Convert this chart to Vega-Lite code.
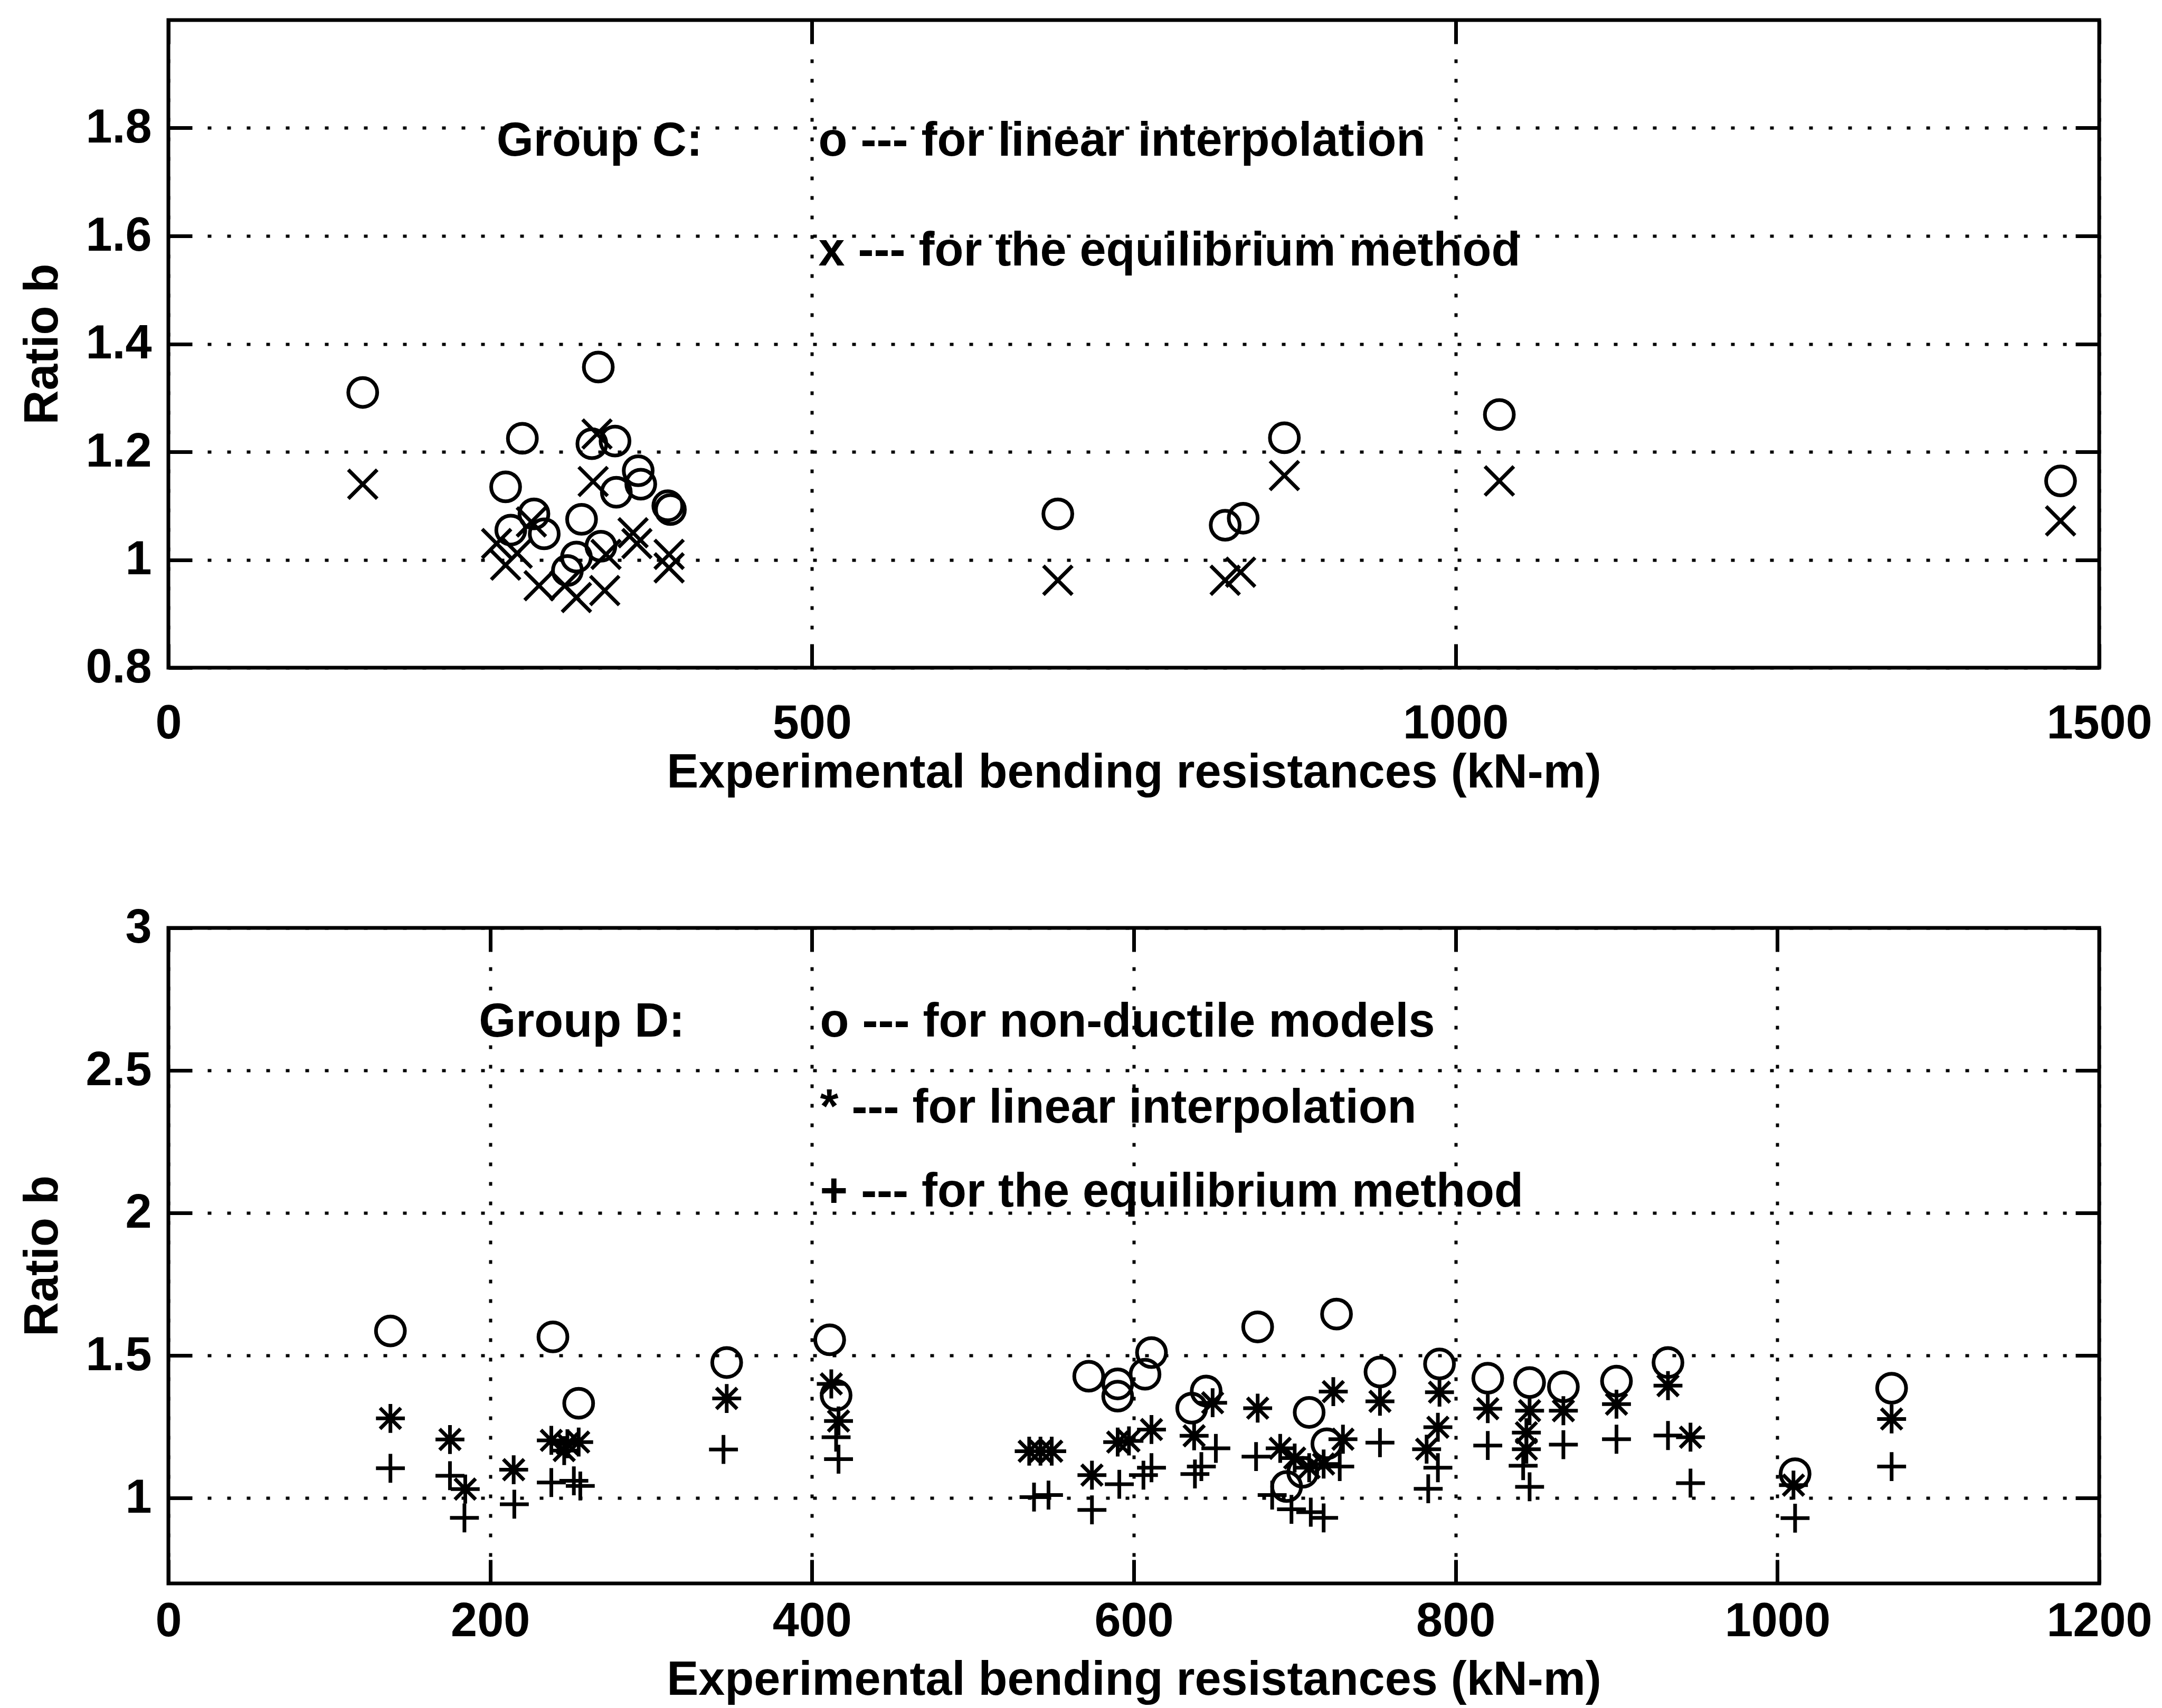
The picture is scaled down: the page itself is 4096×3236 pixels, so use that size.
{
  "$schema": "https://vega.github.io/schema/vega-lite/v6.json",
  "background": "white",
  "padding": {"left": 33, "top": 31, "right": 0, "bottom": 0},
  "config": {
    "font": "Liberation Sans",
    "view": {"stroke": "black", "strokeWidth": 7},
    "axis": {"domain": false, "labelColor": "black", "titleColor": "black", "labelFontSize": 90, "titleFontSize": 90, "labelFontWeight": "bold", "titleFontWeight": "bold", "labelLimit": 0, "titleLimit": 0, "tickColor": "black", "tickWidth": 7, "tickSize": -45, "gridColor": "black", "gridDash": [7, 30], "gridWidth": 6, "gridOpacity": 1, "labelOverlap": false, "labelBound": false, "labelFlush": false, "format": "~r"}
  },
  "datasets": {
    "c": [
      {"x":151,"b":1.31,"s":"o"},{"x":262,"b":1.135,"s":"o"},{"x":266,"b":1.055,"s":"o"},{"x":275,"b":1.225,"s":"o"},{"x":284,"b":1.085,"s":"o"},{"x":292,"b":1.048,"s":"o"},{"x":310,"b":0.98,"s":"o"},{"x":317,"b":1.005,"s":"o"},{"x":321,"b":1.075,"s":"o"},{"x":329,"b":1.215,"s":"o"},{"x":334,"b":1.357,"s":"o"},{"x":336,"b":1.025,"s":"o"},{"x":347,"b":1.22,"s":"o"},{"x":348,"b":1.125,"s":"o"},{"x":365,"b":1.165,"s":"o"},{"x":367,"b":1.14,"s":"o"},{"x":388,"b":1.1,"s":"o"},{"x":390,"b":1.093,"s":"o"},{"x":691,"b":1.085,"s":"o"},{"x":821,"b":1.064,"s":"o"},{"x":835,"b":1.077,"s":"o"},{"x":867,"b":1.226,"s":"o"},{"x":1034,"b":1.269,"s":"o"},{"x":1470,"b":1.146,"s":"o"},
      {"x":151,"b":1.14,"s":"x"},{"x":255,"b":1.03,"s":"x"},{"x":262,"b":0.99,"s":"x"},{"x":271,"b":1.012,"s":"x"},{"x":282,"b":1.07,"s":"x"},{"x":288,"b":0.952,"s":"x"},{"x":308,"b":0.952,"s":"x"},{"x":317,"b":0.93,"s":"x"},{"x":330,"b":1.145,"s":"x"},{"x":333,"b":1.233,"s":"x"},{"x":339,"b":0.943,"s":"x"},{"x":340,"b":1.01,"s":"x"},{"x":361,"b":1.05,"s":"x"},{"x":364,"b":1.03,"s":"x"},{"x":389,"b":1.01,"s":"x"},{"x":389,"b":0.985,"s":"x"},{"x":691,"b":0.962,"s":"x"},{"x":821,"b":0.962,"s":"x"},{"x":833,"b":0.977,"s":"x"},{"x":867,"b":1.156,"s":"x"},{"x":1034,"b":1.146,"s":"x"},{"x":1470,"b":1.072,"s":"x"}
    ],
    "d": [
      {"x":138,"b":1.586,"s":"o"},{"x":239,"b":1.565,"s":"o"},{"x":255,"b":1.332,"s":"o"},{"x":347,"b":1.475,"s":"o"},{"x":411,"b":1.555,"s":"o"},{"x":415,"b":1.36,"s":"o"},{"x":572,"b":1.427,"s":"o"},{"x":590,"b":1.4,"s":"o"},{"x":590,"b":1.357,"s":"o"},{"x":607,"b":1.434,"s":"o"},{"x":611,"b":1.51,"s":"o"},{"x":636,"b":1.315,"s":"o"},{"x":645,"b":1.375,"s":"o"},{"x":677,"b":1.6,"s":"o"},{"x":695,"b":1.04,"s":"o"},{"x":705,"b":1.09,"s":"o"},{"x":709,"b":1.3,"s":"o"},{"x":720,"b":1.19,"s":"o"},{"x":726,"b":1.645,"s":"o"},{"x":753,"b":1.442,"s":"o"},{"x":790,"b":1.47,"s":"o"},{"x":820,"b":1.42,"s":"o"},{"x":846,"b":1.405,"s":"o"},{"x":867,"b":1.39,"s":"o"},{"x":900,"b":1.41,"s":"o"},{"x":932,"b":1.475,"s":"o"},{"x":1011,"b":1.085,"s":"o"},{"x":1071,"b":1.385,"s":"o"},
      {"x":138,"b":1.279,"s":"*"},{"x":175,"b":1.205,"s":"*"},{"x":184.5,"b":1.031,"s":"*"},{"x":214.6,"b":1.099,"s":"*"},{"x":238,"b":1.202,"s":"*"},{"x":246,"b":1.166,"s":"*"},{"x":248,"b":1.19,"s":"*"},{"x":255,"b":1.196,"s":"*"},{"x":347,"b":1.349,"s":"*"},{"x":412,"b":1.4,"s":"*"},{"x":416.5,"b":1.27,"s":"*"},{"x":535,"b":1.164,"s":"*"},{"x":542,"b":1.164,"s":"*"},{"x":549,"b":1.164,"s":"*"},{"x":574,"b":1.08,"s":"*"},{"x":590,"b":1.196,"s":"*"},{"x":597,"b":1.2,"s":"*"},{"x":611,"b":1.24,"s":"*"},{"x":637.5,"b":1.218,"s":"*"},{"x":649,"b":1.334,"s":"*"},{"x":677,"b":1.315,"s":"*"},{"x":691,"b":1.174,"s":"*"},{"x":700,"b":1.14,"s":"*"},{"x":709,"b":1.106,"s":"*"},{"x":718,"b":1.119,"s":"*"},{"x":724,"b":1.373,"s":"*"},{"x":730,"b":1.206,"s":"*"},{"x":753,"b":1.339,"s":"*"},{"x":782,"b":1.171,"s":"*"},{"x":789,"b":1.248,"s":"*"},{"x":790,"b":1.371,"s":"*"},{"x":820,"b":1.313,"s":"*"},{"x":844,"b":1.229,"s":"*"},{"x":844,"b":1.171,"s":"*"},{"x":846,"b":1.306,"s":"*"},{"x":867,"b":1.306,"s":"*"},{"x":900,"b":1.329,"s":"*"},{"x":932,"b":1.394,"s":"*"},{"x":946,"b":1.213,"s":"*"},{"x":1010,"b":1.045,"s":"*"},{"x":1071,"b":1.277,"s":"*"},
      {"x":138,"b":1.104,"s":"+"},{"x":175,"b":1.078,"s":"+"},{"x":184,"b":0.93,"s":"+"},{"x":215,"b":0.978,"s":"+"},{"x":238,"b":1.054,"s":"+"},{"x":252,"b":1.06,"s":"+"},{"x":256,"b":1.042,"s":"+"},{"x":345,"b":1.17,"s":"+"},{"x":415,"b":1.213,"s":"+"},{"x":416.5,"b":1.136,"s":"+"},{"x":538,"b":1.003,"s":"+"},{"x":547,"b":1.01,"s":"+"},{"x":574,"b":0.958,"s":"+"},{"x":591,"b":1.048,"s":"+"},{"x":606,"b":1.08,"s":"+"},{"x":611,"b":1.106,"s":"+"},{"x":638,"b":1.084,"s":"+"},{"x":642,"b":1.11,"s":"+"},{"x":651,"b":1.174,"s":"+"},{"x":676,"b":1.145,"s":"+"},{"x":686,"b":1.01,"s":"+"},{"x":698,"b":0.96,"s":"+"},{"x":710,"b":0.95,"s":"+"},{"x":718,"b":0.93,"s":"+"},{"x":728,"b":1.11,"s":"+"},{"x":753,"b":1.194,"s":"+"},{"x":783,"b":1.032,"s":"+"},{"x":789,"b":1.106,"s":"+"},{"x":820,"b":1.184,"s":"+"},{"x":842,"b":1.113,"s":"+"},{"x":846,"b":1.039,"s":"+"},{"x":867,"b":1.187,"s":"+"},{"x":900,"b":1.206,"s":"+"},{"x":932,"b":1.219,"s":"+"},{"x":946,"b":1.052,"s":"+"},{"x":1011,"b":0.929,"s":"+"},{"x":1071,"b":1.11,"s":"+"}
    ],
    "one": [{}]
  },
  "spacing": 196,
  "vconcat": [
    {
      "width": 3658,
      "height": 1227,
      "resolve": {"axis": {"x": "independent", "y": "independent"}},
      "layer": [
        {
          "data": {"name": "c"},
          "mark": {"type": "point", "filled": false, "color": "black", "strokeWidth": 7, "size": 3000, "opacity": 1},
          "encoding": {
            "x": {"field": "x", "type": "quantitative", "scale": {"domain": [0, 1500], "nice": false, "zero": false},
                  "axis": {"orient": "bottom", "values": [0, 500, 1000, 1500], "grid": true, "labelPadding": 107, "title": "Experimental bending resistances (kN-m)", "titlePadding": 4}},
            "y": {"field": "b", "type": "quantitative", "scale": {"domain": [0.8, 2.0], "nice": false, "zero": false},
                  "axis": {"orient": "left", "values": [0.8, 1, 1.2, 1.4, 1.6, 1.8], "grid": true, "labelPadding": 77, "title": "Ratio b", "titlePadding": 34}},
            "shape": {"field": "s", "type": "nominal", "legend": null,
                      "scale": {"domain": ["o", "x", "*", "+"], "range": ["circle", "M-1,-1L1,1M-1,1L1,-1", "M-1,0L1,0M0,-1L0,1M-0.72,-0.72L0.72,0.72M-0.72,0.72L0.72,-0.72", "M-1,0L1,0M0,-1L0,1"]}}
          }
        },
        {
          "data": {"name": "one"},
          "mark": {"type": "point", "opacity": 0},
          "encoding": {
            "x": {"datum": 0, "type": "quantitative", "scale": {"domain": [0, 1500], "nice": false, "zero": false},
                  "axis": {"orient": "top", "values": [0, 500, 1000, 1500], "grid": false, "labels": false, "title": null}},
            "y": {"datum": 1, "type": "quantitative", "scale": {"domain": [0.8, 2.0], "nice": false, "zero": false},
                  "axis": {"orient": "right", "values": [0.8, 1, 1.2, 1.4, 1.6, 1.8], "grid": false, "labels": false, "title": null}}
          }
        },
        {
          "data": {"name": "one"},
          "mark": {"type": "text", "text": "Group C:", "align": "left", "baseline": "middle", "fontSize": 90, "fontWeight": "bold", "color": "black"},
          "encoding": {"x": {"datum": 255, "type": "quantitative", "axis": null}, "y": {"datum": 1.775, "type": "quantitative", "axis": null}}
        },
        {
          "data": {"name": "one"},
          "mark": {"type": "text", "text": "o --- for linear interpolation", "align": "left", "baseline": "middle", "fontSize": 90, "fontWeight": "bold", "color": "black"},
          "encoding": {"x": {"datum": 505, "type": "quantitative", "axis": null}, "y": {"datum": 1.775, "type": "quantitative", "axis": null}}
        },
        {
          "data": {"name": "one"},
          "mark": {"type": "text", "text": "x --- for the equilibrium method", "align": "left", "baseline": "middle", "fontSize": 90, "fontWeight": "bold", "color": "black"},
          "encoding": {"x": {"datum": 505, "type": "quantitative", "axis": null}, "y": {"datum": 1.572, "type": "quantitative", "axis": null}}
        }
      ]
    },
    {
      "width": 3658,
      "height": 1242,
      "resolve": {"axis": {"x": "independent", "y": "independent"}},
      "layer": [
        {
          "data": {"name": "d"},
          "mark": {"type": "point", "filled": false, "color": "black", "strokeWidth": 7, "size": 3000, "opacity": 1},
          "encoding": {
            "x": {"field": "x", "type": "quantitative", "scale": {"domain": [0, 1200], "nice": false, "zero": false},
                  "axis": {"orient": "bottom", "values": [0, 200, 400, 600, 800, 1000, 1200], "grid": true, "labelPadding": 73, "title": "Experimental bending resistances (kN-m)", "titlePadding": 22}},
            "y": {"field": "b", "type": "quantitative", "scale": {"domain": [0.7, 3], "nice": false, "zero": false},
                  "axis": {"orient": "left", "values": [1, 1.5, 2, 2.5, 3], "grid": true, "labelPadding": 77, "title": "Ratio b", "titlePadding": 34}},
            "shape": {"field": "s", "type": "nominal", "legend": null,
                      "scale": {"domain": ["o", "x", "*", "+"], "range": ["circle", "M-1,-1L1,1M-1,1L1,-1", "M-1,0L1,0M0,-1L0,1M-0.72,-0.72L0.72,0.72M-0.72,0.72L0.72,-0.72", "M-1,0L1,0M0,-1L0,1"]}}
          }
        },
        {
          "data": {"name": "one"},
          "mark": {"type": "point", "opacity": 0},
          "encoding": {
            "x": {"datum": 0, "type": "quantitative", "scale": {"domain": [0, 1200], "nice": false, "zero": false},
                  "axis": {"orient": "top", "values": [0, 200, 400, 600, 800, 1000, 1200], "grid": false, "labels": false, "title": null}},
            "y": {"datum": 1, "type": "quantitative", "scale": {"domain": [0.7, 3], "nice": false, "zero": false},
                  "axis": {"orient": "right", "values": [1, 1.5, 2, 2.5, 3], "grid": false, "labels": false, "title": null}}
          }
        },
        {
          "data": {"name": "one"},
          "mark": {"type": "text", "text": "Group D:", "align": "left", "baseline": "middle", "fontSize": 90, "fontWeight": "bold", "color": "black"},
          "encoding": {"x": {"datum": 193, "type": "quantitative", "axis": null}, "y": {"datum": 2.668, "type": "quantitative", "axis": null}}
        },
        {
          "data": {"name": "one"},
          "mark": {"type": "text", "text": "o --- for non-ductile models", "align": "left", "baseline": "middle", "fontSize": 90, "fontWeight": "bold", "color": "black"},
          "encoding": {"x": {"datum": 405, "type": "quantitative", "axis": null}, "y": {"datum": 2.668, "type": "quantitative", "axis": null}}
        },
        {
          "data": {"name": "one"},
          "mark": {"type": "text", "text": "* --- for linear interpolation", "align": "left", "baseline": "middle", "fontSize": 90, "fontWeight": "bold", "color": "black"},
          "encoding": {"x": {"datum": 405, "type": "quantitative", "axis": null}, "y": {"datum": 2.366, "type": "quantitative", "axis": null}}
        },
        {
          "data": {"name": "one"},
          "mark": {"type": "text", "text": "+ --- for the equilibrium method", "align": "left", "baseline": "middle", "fontSize": 90, "fontWeight": "bold", "color": "black"},
          "encoding": {"x": {"datum": 405, "type": "quantitative", "axis": null}, "y": {"datum": 2.073, "type": "quantitative", "axis": null}}
        }
      ]
    }
  ]
}
